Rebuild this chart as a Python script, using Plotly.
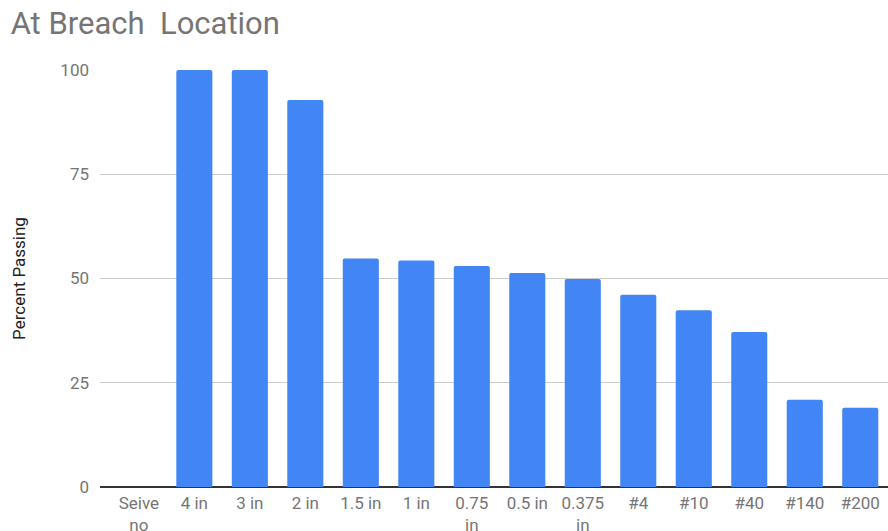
import plotly.graph_objects as go

categories = ["Seive<br>no", "4 in", "3 in", "2 in", "1.5 in", "1 in", "0.75<br>in",
              "0.5 in", "0.375<br>in", "#4", "#10", "#40", "#140", "#200"]
percent_passing = [None, 100, 100, 92.8, 54.8, 54.3, 53.0, 51.3, 49.9, 46.1, 42.4, 37.2, 20.9, 19.0]
y_ticks = [0, 25, 50, 75, 100]

fig = go.Figure()
fig.add_trace(go.Bar(
    x=list(range(len(categories))), y=percent_passing,
    marker=dict(color="#4285f4", cornerradius=2, line=dict(width=0)),
))

fig.update_layout(
    width=888, height=531,
    margin=dict(l=100, r=0, t=70, b=44),
    paper_bgcolor="white", plot_bgcolor="white",
    font=dict(family="Roboto", color="#757575", size=17),
    title=dict(text="At Breach  Location", x=0.012, xanchor="left", y=0.956, yanchor="middle",
               font=dict(family="Roboto", size=31, color="#757575")),
    bargap=0.35,
    showlegend=False,
    xaxis=dict(
        tickmode="array", tickvals=list(range(len(categories))), ticktext=categories,
        range=[-0.7, 13.5], showgrid=False, showline=False, zeroline=False, automargin=False,
        ticks="", ticklabelstandoff=4, tickfont=dict(size=17, color="#757575"), fixedrange=True,
    ),
    yaxis=dict(
        range=[0, 100], tickvals=y_ticks, showgrid=True, gridcolor="#cccccc", gridwidth=1,
        zeroline=True, zerolinecolor="#333333", zerolinewidth=1.5, automargin=False,
        ticks="", ticklabelstandoff=10, tickfont=dict(size=17, color="#757575"),
        title=dict(text="Percent Passing", font=dict(size=17, color="#222222"), standoff=30),
    ),
)

fig.write_html("out.html")
